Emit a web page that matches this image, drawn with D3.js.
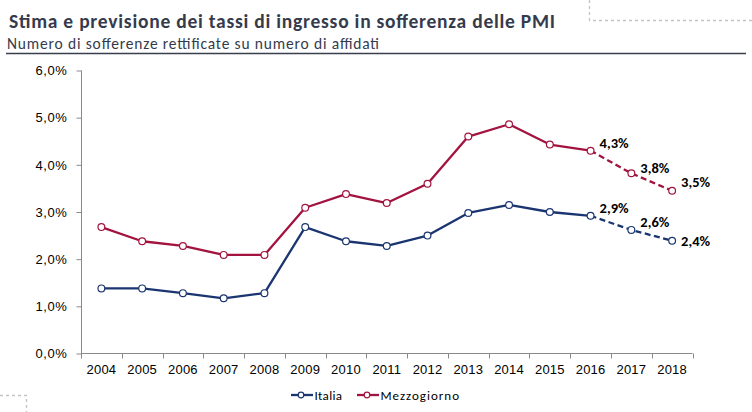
<!DOCTYPE html>
<html><head><meta charset="utf-8">
<script src="https://cdn.jsdelivr.net/npm/d3@7"></script>
<style>
body{margin:0;background:#fff;}
svg{display:block;font-family:Carlito,Calibri,"Liberation Sans Narrow","Open Sans",sans-serif;}
</style></head><body>
<svg id="c" width="752" height="412"></svg>
<script>
const years = ["2004","2005","2006","2007","2008","2009","2010","2011","2012","2013","2014","2015","2016","2017","2018"];
const italia = [1.38,1.38,1.28,1.17,1.28,2.68,2.38,2.28,2.50,2.98,3.15,3.00,2.92,2.62,2.39];
const mezzogiorno = [2.68,2.38,2.28,2.09,2.09,3.09,3.38,3.19,3.60,4.60,4.86,4.43,4.30,3.82,3.45];
const italiaLabels = ["2,9%","2,6%","2,4%"];
const mezzLabels = ["4,3%","3,8%","3,5%"];
const yTicks = [0,1,2,3,4,5,6];
const seriesNames = ["Italia","Mezzogiorno"];
const forecastStart = 12;

const colIt = "#1b3570", colMz = "#a3133f";
const svg = d3.select("#c");
const x = d3.scaleBand().domain(years).range([81,692.5]);
const y = d3.scaleLinear().domain([0,6]).range([353.5,70.5]);

// decorative dotted borders
svg.append("path").attr("d","M589.5,0V20.5H752").attr("fill","none").attr("stroke","#c4c4c4").attr("stroke-width",1.3).attr("stroke-dasharray","3,3");
svg.append("path").attr("d","M0,395.5H26.5V412").attr("fill","none").attr("stroke","#c4c4c4").attr("stroke-width",1.3).attr("stroke-dasharray","3,3");

// title
svg.append("text").attr("x",9).attr("y",27.5).attr("font-size",19.5).attr("font-weight","bold").attr("fill","#353b4c")
  .attr("textLength",546).attr("lengthAdjust","spacing")
  .text("Stima e previsione dei tassi di ingresso in sofferenza delle PMI");
svg.append("text").attr("x",7).attr("y",49).attr("font-size",15.5).attr("fill","#353b4c")
  .attr("textLength",372).attr("lengthAdjust","spacing")
  .text("Numero di sofferenze rettificate su numero di affidati");
svg.append("line").attr("x1",6).attr("x2",746).attr("y1",53.5).attr("y2",53.5).attr("stroke","#3a3f4e").attr("stroke-width",1.6);

// axes
const yAxis = d3.axisLeft(y).tickValues(yTicks).tickSize(5).tickPadding(9)
  .tickFormat(d=>d.toFixed(1).replace(".",",")+"%");
const gy = svg.append("g").attr("transform","translate(81.5,0)").call(yAxis);
gy.select(".domain").attr("stroke","#8a8a8a").attr("d","M0,70.5V353.5");
gy.selectAll(".tick line").attr("stroke","#8a8a8a");
gy.selectAll("text").attr("font-size",13).attr("fill","#000").attr("font-family","inherit").attr("letter-spacing",0.6);

const xAxis = d3.axisBottom(x).tickSize(0).tickPadding(11);
const gx = svg.append("g").attr("transform","translate(0,353.5)").call(xAxis);
gx.select(".domain").attr("stroke","#8a8a8a").attr("d","M81,0H692.5");
gx.selectAll("text").attr("font-size",13).attr("fill","#000").attr("font-family","inherit").attr("letter-spacing",0.2);
// category boundary ticks
const bounds = years.map(d=>x(d)).concat([x(years[years.length-1])+x.bandwidth()]);
gx.selectAll(".bt").data(bounds).enter().append("line").attr("class","bt")
  .attr("x1",d=>Math.round(d)+0.5).attr("x2",d=>Math.round(d)+0.5).attr("y1",0).attr("y2",5).attr("stroke","#8a8a8a");

const cx = i=>x(years[i])+x.bandwidth()/2;
function drawSeries(vals,color,labels,dys){
  const pts = vals.map((v,i)=>[cx(i),y(v)]);
  const line = d3.line();
  svg.append("path").attr("d",line(pts.slice(0,forecastStart+1))).attr("fill","none").attr("stroke",color).attr("stroke-width",2.3).attr("stroke-linejoin","round");
  svg.append("path").attr("d",line(pts.slice(forecastStart))).attr("fill","none").attr("stroke",color).attr("stroke-width",2.3).attr("stroke-dasharray","6,3.5");
  svg.selectAll(null).data(pts).enter().append("circle").attr("cx",d=>d[0]).attr("cy",d=>d[1]).attr("r",3.4)
    .attr("fill","#fff").attr("stroke",color).attr("stroke-width",1.2);
  labels.forEach((t,j)=>{
    const i = forecastStart+j;
    svg.append("text").attr("x",pts[i][0]+9).attr("y",pts[i][1]+dys[j])
      .attr("font-size",14.5).attr("font-weight","bold").attr("fill","#000").text(t);
  });
}
drawSeries(italia,colIt,italiaLabels,[-2.5,-2.5,5]);
drawSeries(mezzogiorno,colMz,mezzLabels,[-3,0,-3.5]);

// legend
const leg = [{c:colIt,x:291,w:27.5},{c:colMz,x:357,w:78.5}];
leg.forEach((l,k)=>{
  svg.append("line").attr("x1",l.x).attr("x2",l.x+22).attr("y1",395).attr("y2",395).attr("stroke",l.c).attr("stroke-width",2.3);
  svg.append("circle").attr("cx",l.x+10).attr("cy",395).attr("r",2.8).attr("fill","#fff").attr("stroke",l.c).attr("stroke-width",1.2);
  svg.append("text").attr("x",l.x+23.5).attr("y",399.5).attr("font-size",13).attr("fill","#000")
    .attr("textLength",l.w).attr("lengthAdjust","spacing").text(seriesNames[k]);
});
</script>
</body></html>
